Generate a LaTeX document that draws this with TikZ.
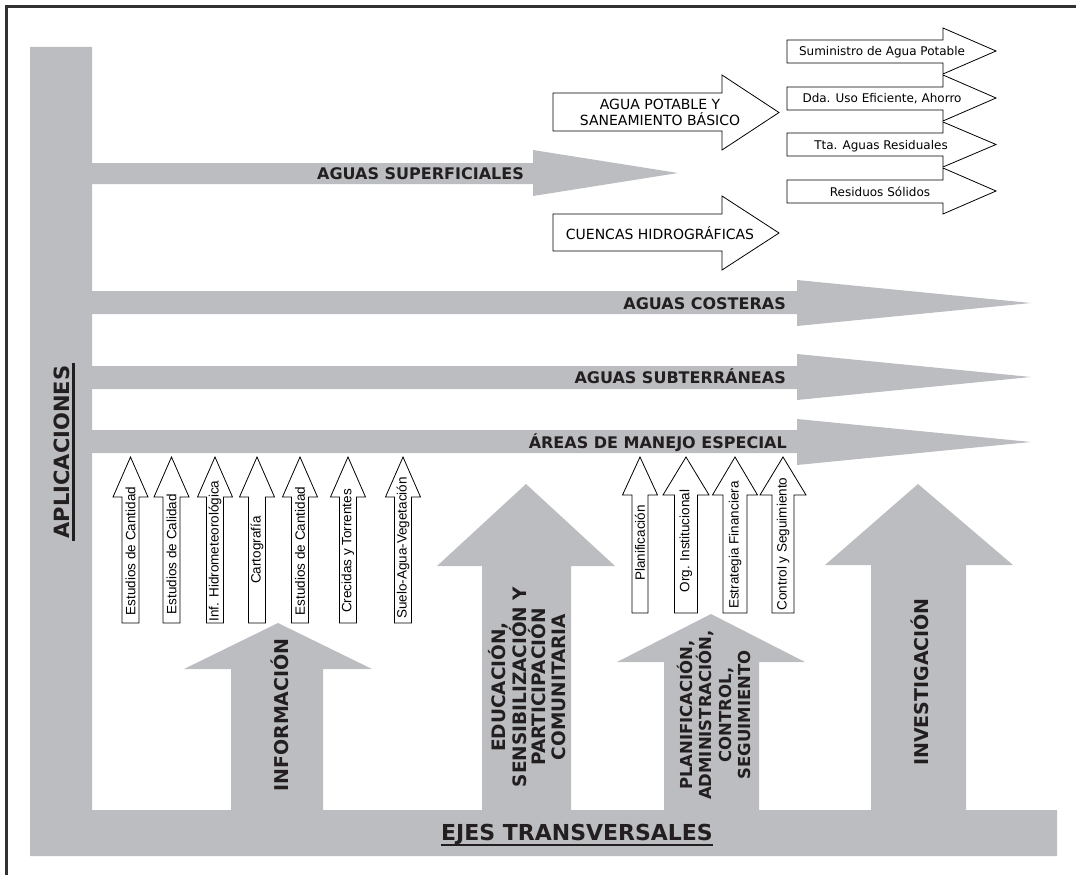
\documentclass[tikz,border=0pt]{standalone}
\usepackage{fontspec}
\setmainfont{DejaVu Sans}
\newfontfamily\arialf{Liberation Sans}
\usetikzlibrary{calc}
\definecolor{bandgray}{RGB}{188,189,192}
\definecolor{ink}{RGB}{35,31,32}
\definecolor{framec}{RGB}{50,50,50}
% gray horizontal arrow: y1,y2,xhead,headtop,headbottom,tipx,tipy
\newcommand\hband[7]{\fill[bandgray] (92,#1) -- (#3,#1) -- (#3,#4) -- (#6,#7) -- (#3,#5) -- (#3,#2) -- (92,#2) -- cycle;}
% gray up arrow: shaftleft,shaftright,base,headleft,headright,tipx,tipy
\newcommand\uband[7]{\fill[bandgray] (#1,810) -- (#1,#3) -- (#4,#3) -- (#6,#7) -- (#5,#3) -- (#2,#3) -- (#2,810) -- cycle;}
% white right arrow: x1,xhead,xtip,y1,y2,headtop,headbottom
\newcommand\rwarr[7]{\draw[warr] (#1,#4) -- (#2,#4) -- (#2,#6) -- (#3,{(#6+#7)/2}) -- (#2,#7) -- (#2,#5) -- (#1,#5) -- cycle;}
% white up arrow: cx,shafthalf,headhalf,tipy,basey,bottomy,name,text,textcy
\newcommand\uwarr[9]{\draw[warr] ({#1-#2},#6) -- ({#1-#2},#5) -- ({#1-#3},#5) -- (#1,#4) -- ({#1+#3},#5) -- ({#1+#2},#5) -- ({#1+#2},#6) -- cycle;
  \node[stxt] (#7) at (#1,#9) {#8};}
\begin{document}
\begin{tikzpicture}[x=1pt,y=-1pt,
  warr/.style={fill=white,draw=black,line width=0.8pt,line join=miter},
  stxt/.style={rotate=90,inner sep=0,font=\arialf\fontsize{13.5}{13.5}\selectfont},
  rtxt/.style={inner sep=0,font=\fontsize{12}{14}\selectfont,align=center},
  mtxt/.style={inner sep=0,font=\fontsize{14}{16}\selectfont,align=center},
  blab/.style={inner sep=0,text=ink,font=\bfseries\fontsize{16}{19}\selectfont},
  vlab/.style={inner sep=0,text=ink,rotate=90,align=center},
  ulin/.style={draw=ink,line width=2.5pt}]
\useasboundingbox (0,0) rectangle (1076,875);
% frame
\draw[framec,line width=2.5pt] (6.5,875) -- (6.5,6.5) -- (1076,6.5);
% L shaped base
\fill[bandgray] (30,47) -- (92,47) -- (92,810) -- (1057,810) -- (1057,856) -- (30,856) -- cycle;
% horizontal gray arrows
\hband{163}{184}{533}{150}{196}{678}{173}
\hband{291}{314}{797}{280}{326}{1031}{303}
\hband{366}{389}{797}{354}{400}{1031}{377}
\hband{430}{453}{797}{419}{465}{1031}{442}
% vertical gray arrows
\uband{231}{323}{669}{184}{372}{278}{623}
\uband{482}{571}{566}{437}{615}{526}{484}
\uband{664}{759}{662}{617}{805}{711}{614}
\uband{871}{966}{565}{825}{1013}{918}{484}
% band labels
\node[blab,anchor=base east] (as) at (524,179) {AGUAS SUPERFICIALES};
\node[blab,anchor=base east] (ac) at (786,309) {AGUAS COSTERAS};
\node[blab,anchor=base east] (asub) at (786,383) {AGUAS SUBTERRÁNEAS};
\node[blab,anchor=base east] (ame) at (787,448) {ÁREAS DE MANEJO ESPECIAL};
% main axis labels
\node[vlab,font=\bfseries\fontsize{21}{24}\selectfont] (apl) at (62,452) {APLICACIONES};
\draw[ulin] ($(apl.base west)+(4,2)$) -- ($(apl.base east)+(4,-2)$);
\node[inner sep=0,text=ink,font=\bfseries\fontsize{22}{26}\selectfont] (ejes) at (577,835) {EJES TRANSVERSALES};
\draw[ulin] ($(ejes.base west)+(0,4)$) -- ($(ejes.base east)+(0,4)$);
% vertical arrow labels
\node[vlab,anchor=base,font=\bfseries\fontsize{19}{21}\selectfont] (info) at (288,715) {INFORMACIÓN};
\node[vlab,font=\bfseries\fontsize{18.5}{19.5}\selectfont] (educ) at (527,687) {EDUCACIÓN,\\SENSIBILIZACIÓN Y\\PARTICIPACIÓN\\COMUNITARIA};
\node[vlab,font=\bfseries\fontsize{16.5}{19.3}\selectfont] (plan) at (714,715) {PLANIFICACIÓN,\\ADMINISTRACIÓN,\\CONTROL,\\SEGUIMIENTO};
\node[vlab,anchor=base,font=\bfseries\fontsize{19}{21}\selectfont] (inv) at (928,682) {INVESTIGACIÓN};
% white right arrows
\rwarr{553}{722}{779}{93}{131}{75}{150}
\node[mtxt] (apsb) at (660,112) {AGUA POTABLE Y\\SANEAMIENTO BÁSICO};
\rwarr{553}{722}{779}{214}{251}{196}{270}
\node[mtxt] (cuen) at (660,233) {CUENCAS HIDROGRÁFICAS};
\rwarr{787}{943}{996}{40}{63}{28}{74}
\node[rtxt] (r1) at (882,52) {Suministro de Agua Potable};
\rwarr{787}{943}{996}{87}{110}{75}{121}
\node[rtxt] (r2) at (882,99) {Dda. Uso Eficiente, Ahorro};
\rwarr{787}{943}{996}{133}{156}{122}{167}
\node[rtxt] (r3) at (881,146) {Tta. Aguas Residuales};
\rwarr{787}{943}{996}{180}{203}{168}{214}
\node[rtxt] (r4) at (880,192) {Residuos Sólidos};
% white up arrows, left group
\uwarr{130.5}{8.5}{17.5}{457}{497}{623}{s1}{Estudios de Cantidad}{551}
\uwarr{171.5}{8.5}{17.5}{457}{497}{623}{s2}{Estudios de Calidad}{554}
\uwarr{215}{8.5}{17.5}{457}{497}{623}{s3}{Inf. Hidrometeorológica}{551}
\uwarr{257}{8.5}{17.5}{457}{497}{623}{s4}{Cartografía}{550}
\uwarr{300}{8.5}{17.5}{457}{497}{623}{s5}{Estudios de Cantidad}{551}
\uwarr{348}{8.5}{17.5}{457}{497}{623}{s6}{Crecidas y Torrentes}{551}
\uwarr{403}{8.5}{17.5}{457}{497}{623}{s7}{Suelo-Agua-Vegetación}{548}
% white up arrows, right group
\uwarr{640}{8}{17.5}{457}{495}{613}{p1}{Planificación}{543}
\uwarr{686}{11.5}{23}{457}{495}{613}{p2}{Org. Institucional}{541}
\uwarr{735}{12}{22.5}{457}{495}{613}{p3}{Estrategia Financiera}{545}
\uwarr{783}{11}{23}{457}{495}{613}{p4}{Control y Seguimiento}{544}
\end{tikzpicture}
\end{document}
